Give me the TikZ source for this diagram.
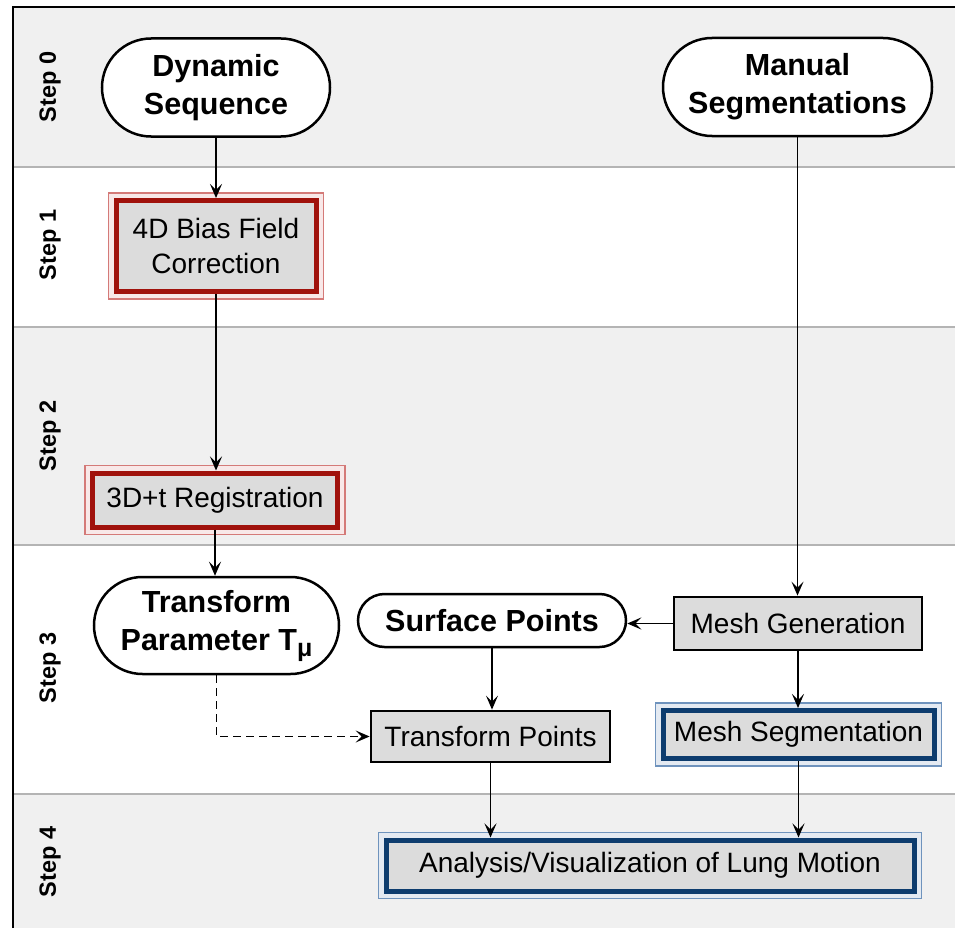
\documentclass[tikz,border=0pt]{standalone}
\usepackage{fontspec}
\setmainfont{Liberation Sans}
\usetikzlibrary{shapes.misc,arrows.meta}

\definecolor{bandgray}{RGB}{240,240,240}
\definecolor{sepgray}{RGB}{180,180,180}
\definecolor{boxgray}{RGB}{220,220,220}
\definecolor{redthick}{RGB}{160,18,12}
\definecolor{redthin}{RGB}{212,122,120}
\definecolor{redgap}{RGB}{248,232,232}
\definecolor{bluethick}{RGB}{13,60,110}
\definecolor{bluethin}{RGB}{111,147,189}
\definecolor{bluegap}{RGB}{228,234,242}

\begin{document}
\begin{tikzpicture}[x=1pt,y=-1pt,
  steplabel/.style={rotate=90, font=\fontsize{23.5}{23.5}\selectfont\bfseries},
  pill/.style={rounded rectangle, draw=black, line width=2.5pt, fill=white,
    inner sep=0pt, align=center, font=\fontsize{30.5}{38}\selectfont\bfseries},
  plainbox/.style={rectangle, draw=black, line width=2.8pt, fill=boxgray,
    inner sep=0pt, align=center, font=\fontsize{28}{35}\selectfont},
  redbox/.style={rectangle, draw=redthick, line width=5pt, fill=boxgray,
    preaction={draw=redthin, line width=16.5pt},
    preaction={draw=redgap, line width=13.5pt},
    inner sep=0pt, align=center, font=\fontsize{28}{35}\selectfont},
  bluebox/.style={rectangle, draw=bluethick, line width=5pt, fill=boxgray,
    preaction={draw=bluethin, line width=16.5pt},
    preaction={draw=bluegap, line width=13.5pt},
    inner sep=0pt, align=center, font=\fontsize{28}{35}\selectfont},
  flow/.style={draw=black, line width=1.4pt,
    -{Stealth[length=14pt, width=12pt, inset=6pt]}},
  dashflow/.style={flow, dash pattern=on 8pt off 5pt},
]
\useasboundingbox (0,0) rectangle (955,931);

% swim-lane bands
\fill[bandgray] (13,7) rectangle (955,167);
\fill[white]    (13,167) rectangle (955,327);
\fill[bandgray] (13,327) rectangle (955,545);
\fill[white]    (13,545) rectangle (955,794);
\fill[bandgray] (13,794) rectangle (955,928);
\foreach \yy in {167,327,545,794}
  \draw[sepgray, line width=1.5pt] (13,\yy) -- (955,\yy);
\draw[black, line width=1.5pt] (13,928) -- (13,7) -- (955,7);

% lane labels
\node[steplabel] (s0) at (50,87)  {Step 0};
\node[steplabel] (s1) at (50,245) {Step 1};
\node[steplabel] (s2) at (50,436) {Step 2};
\node[steplabel] (s3) at (50,668) {Step 3};
\node[steplabel] (s4) at (50,862) {Step 4};

% process nodes
\node[pill, minimum width=228pt, minimum height=98pt] (dyn) at (216,87.5)
  {Dynamic\\Sequence};
\node[pill, minimum width=269pt, minimum height=98pt] (man) at (797.5,87)
  {Manual\\Segmentations};
\node[redbox, minimum width=200pt, minimum height=91pt] (bias) at (216,246)
  {4D Bias Field\\Correction};
\node[redbox, minimum width=245pt, minimum height=54pt] (reg) at (215,500)
  {3D+t Registration};
\node[pill, minimum width=245pt, minimum height=97pt] (tpar) at (216.5,625.5)
  {Transform\\Parameter T\raisebox{-6pt}{\fontsize{25}{25}\selectfont μ}};
\node[pill, minimum width=268pt, minimum height=53pt] (surf) at (492,620.5)
  {Surface Points};
\node[plainbox, minimum width=248pt, minimum height=53pt] (mgen) at (798,623.5)
  {Mesh Generation};
\node[plainbox, minimum width=239pt, minimum height=51pt] (tpts) at (490.5,736.5)
  {Transform Points};
\node[bluebox, minimum width=271pt, minimum height=48pt] (mseg) at (798.5,734.5)
  {Mesh Segmentation};
\node[bluebox, minimum width=528pt, minimum height=51pt] (ana) at (650,865.5)
  {Analysis/Visualization of Lung Motion};

% connectors
\draw[flow] (dyn.south) -- (dyn.south |- bias.north);
\draw[flow] (bias.south) -- (bias.south |- reg.north);
\draw[flow] (reg.south) -- (reg.south |- tpar.north);
\draw[flow] (man.south) -- (man.south |- mgen.north);
\draw[flow] (mgen.west) -- (surf.east |- mgen.west);
\draw[flow] (surf.south) -- (surf.south |- tpts.north);
\draw[flow] (mgen.south) -- (mgen.south |- mseg.north);
\draw[dashflow] (tpar.south) -- (tpar.south |- tpts.west) -- (tpts.west);
\draw[flow] (tpts.south) -- (tpts.south |- ana.north);
\draw[flow] (mseg.south) -- (mseg.south |- ana.north);
\end{tikzpicture}
\end{document}
